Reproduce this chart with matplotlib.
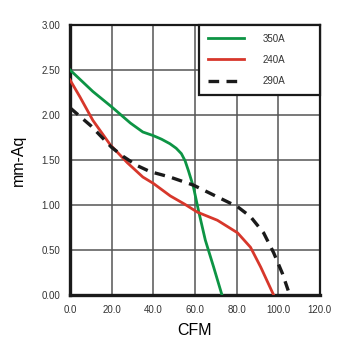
import numpy as np
from matplotlib import pyplot as plt

plt.rcParams['font.family'] = ['Liberation Sans', 'DejaVu Sans']

# Fan curves (CFM, mm-Aq).
x_350 = [0, 11, 20, 29, 35, 40, 44, 48, 51, 53.5, 55.3, 56.9, 59.3, 61.7, 65, 69, 73]
y_350 = [2.5, 2.26, 2.09, 1.91, 1.81, 1.77, 1.73, 1.68, 1.63, 1.57, 1.49, 1.38, 1.2, 0.94, 0.61, 0.31, 0.0]

x_240 = [0, 4.8, 11, 19.3, 27.5, 35, 40, 48.2, 55, 61.2, 70.8, 80.5, 86.7, 91.6, 97.8]
y_240 = [2.39, 2.2, 1.94, 1.67, 1.47, 1.31, 1.24, 1.1, 1.01, 0.92, 0.83, 0.69, 0.53, 0.31, 0.0]

x_290 = [0, 10, 20, 25.5, 32, 38.5, 48, 59.3, 69, 80.5, 86.7, 93, 97.8, 102, 104.8]
y_290 = [2.08, 1.88, 1.64, 1.54, 1.44, 1.37, 1.31, 1.22, 1.11, 0.98, 0.87, 0.69, 0.47, 0.24, 0.05]

labels = ['350A', '240A', '290A']
xticks = np.arange(0, 121, 20)
yticks = np.arange(0, 3.01, 0.5)

fig = plt.figure(figsize=(3.55, 3.55), dpi=100)
ax = fig.add_axes([0.197, 0.169, 0.704, 0.761])

ax.plot(x_350, y_350, color='#0d9444', lw=2.0, label=labels[0], zorder=3)
ax.plot(x_240, y_240, color='#d7372b', lw=2.0, label=labels[1], zorder=3)
ax.plot(x_290, y_290, color='#1a1a1a', lw=2.4, dashes=(3.2, 2.2),
        label=labels[2], zorder=3)

ax.set_xlim(0, 120)
ax.set_ylim(0, 3)
ax.set_xticks(xticks)
ax.set_yticks(yticks)
ax.set_xticklabels([f'{v:.1f}' for v in xticks])
ax.set_yticklabels([f'{v:.2f}' for v in yticks])
ax.tick_params(length=0, labelsize=7, labelcolor='#333333', pad=7)
ax.grid(True, color='#555555', lw=1.1)
ax.set_axisbelow(True)

for side in ['left', 'bottom']:
    ax.spines[side].set_linewidth(2.4)
for side in ['top', 'right']:
    ax.spines[side].set_linewidth(1.6)
for sp in ax.spines.values():
    sp.set_color('#1a1a1a')

ax.set_xlabel('CFM', fontsize=11.5, labelpad=6)
ax.set_ylabel('mm-Aq', fontsize=11.5, labelpad=11)

leg = ax.legend(loc='upper left', bbox_to_anchor=(0.516, 0, 0.484, 1.0),
                mode='expand', fontsize=7, handlelength=3.7, handletextpad=2.0,
                labelspacing=1.15, borderaxespad=0, fancybox=False,
                framealpha=1, edgecolor='#1a1a1a', borderpad=0.9)
leg.get_frame().set_linewidth(1.6)
for t in leg.get_texts():
    t.set_color('#333333')

fig.savefig('out.png', dpi=100)
